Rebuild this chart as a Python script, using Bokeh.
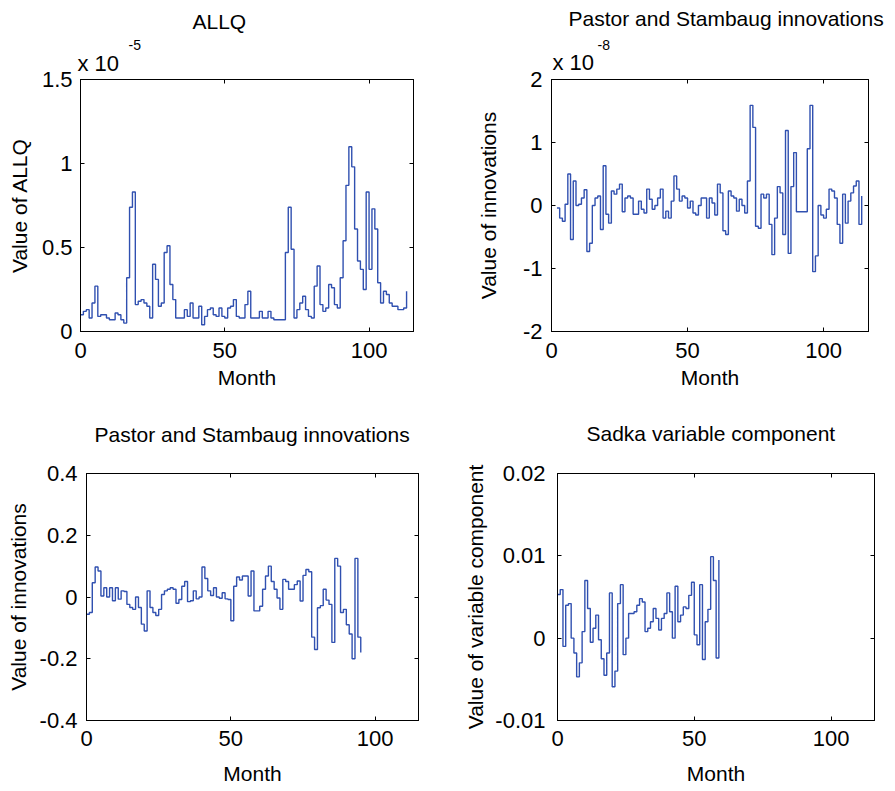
from bokeh.plotting import figure
from bokeh.layouts import column, row
from bokeh.models import Range1d, FixedTicker, Label, LinearAxis
from bokeh.embed import file_html
from bokeh.resources import INLINE

FONT = "Liberation Sans"
LINE = "#3050b0"

# ---------------- data ----------------
# ALLQ (in units of 1e-5), months 0..113
allq_start = 0
allq = [0.10, 0.12, 0.13, 0.08, 0.17, 0.27, 0.09, 0.10, 0.10, 0.08,
        0.07, 0.07, 0.11, 0.10, 0.07, 0.05, 0.32, 0.74, 0.83, 0.16,
        0.18, 0.19, 0.17, 0.15, 0.08, 0.40, 0.31, 0.15, 0.17, 0.47,
        0.51, 0.28, 0.19, 0.08, 0.08, 0.08, 0.13, 0.09, 0.17, 0.08,
        0.08, 0.15, 0.04, 0.09, 0.13, 0.14, 0.10, 0.09, 0.14, 0.09,
        0.08, 0.14, 0.15, 0.19, 0.09, 0.08, 0.08, 0.16, 0.24, 0.08,
        0.08, 0.08, 0.12, 0.08, 0.08, 0.12, 0.08, 0.07, 0.07, 0.07,
        0.07, 0.47, 0.74, 0.49, 0.08, 0.13, 0.17, 0.21, 0.13, 0.09,
        0.08, 0.27, 0.39, 0.16, 0.12, 0.14, 0.28, 0.26, 0.16, 0.14,
        0.32, 0.54, 0.87, 1.10, 0.98, 0.61, 0.42, 0.37, 0.25, 0.83,
        0.37, 0.73, 0.61, 0.29, 0.17, 0.24, 0.22, 0.17, 0.15, 0.15,
        0.13, 0.13, 0.14, 0.24]

# Pastor and Stambaugh innovations (in units of 1e-8), months 2..114
ps8_start = 2
ps8 = [-0.04, -0.20, -0.25, 0.02, 0.50, -0.54, 0.39, 0.00, 0.02, 0.12,
       0.25, -0.73, -0.60, 0.00, 0.12, 0.15, -0.38, 0.63, -0.14, -0.28,
       0.23, 0.18, 0.26, 0.34, -0.10, 0.12, 0.15, 0.12, -0.14, -0.14,
       0.07, -0.06, -0.12, 0.26, 0.10, -0.06, 0.00, 0.12, 0.26, -0.20,
       -0.09, -0.20, 0.07, 0.47, 0.26, 0.07, 0.15, 0.12, -0.04, 0.07,
       -0.12, -0.15, 0.00, 0.12, 0.12, -0.20, 0.12, 0.04, -0.15, 0.34,
       0.20, -0.40, -0.46, 0.23, 0.15, 0.12, -0.09, 0.10, 0.00, -0.12,
       0.39, 1.59, 1.24, -0.33, -0.36, 0.18, 0.12, 0.18, -0.30, -0.78,
       -0.20, 0.30, 0.20, -0.46, 1.19, -0.76, 0.30, 0.84, -0.10, -0.10,
       -0.10, -0.10, 0.90, 1.59, -1.05, -0.80, 0.00, -0.15, -0.20, -0.06,
       0.26, 0.23, 0.12, -0.30, -0.60, 0.18, -0.28, 0.07, 0.20, 0.31,
       0.39, -0.30, 0.15]

# Pastor and Stambaugh innovations (second series), months 0..95
ps_start = 0
ps = [-0.056, -0.050, 0.046, 0.097, 0.084, 0.003, 0.030, 0.000, 0.030, -0.012,
      0.030, -0.007, 0.020, 0.018, -0.024, -0.034, -0.040, 0.000, -0.034, -0.088,
      -0.110, 0.020, -0.034, -0.050, -0.060, -0.040, 0.008, 0.020, 0.025, 0.030,
      0.025, -0.020, -0.008, 0.035, 0.050, -0.015, -0.012, 0.020, -0.006, 0.000,
      0.097, 0.060, 0.020, 0.005, 0.030, 0.000, -0.004, 0.014, -0.006, -0.008,
      -0.077, 0.035, 0.065, 0.055, 0.068, 0.068, 0.003, 0.084, -0.045, -0.045,
      -0.030, 0.025, 0.068, 0.100, 0.050, 0.025, -0.003, -0.040, 0.057, 0.050,
      0.025, 0.025, 0.040, 0.052, -0.013, 0.070, 0.089, 0.082, -0.130, -0.170,
      -0.035, -0.028, 0.025, -0.010, -0.024, -0.147, 0.125, 0.100, -0.050, -0.040,
      -0.090, -0.120, -0.200, 0.125, -0.130, -0.180]

# Sadka variable component, months 0..59
sadka_start = 0
sadka = [0.0053, 0.0059, -0.0010, 0.0040, 0.0042, 0.0000, -0.0018, -0.0047, -0.0030, 0.0008,
         0.0070, 0.0036, -0.0005, 0.0012, 0.0028, -0.0002, -0.0025, -0.0045, -0.0018, 0.0055,
         -0.0059, -0.0040, 0.0042, 0.0065, -0.0020, 0.0000, 0.0030, 0.0030, 0.0032, 0.0040,
         0.0048, 0.0044, 0.0008, 0.0012, 0.0020, 0.0036, 0.0024, 0.0010, 0.0024, 0.0030,
         0.0055, 0.0032, 0.0000, 0.0063, 0.0020, 0.0028, 0.0038, 0.0036, 0.0052, 0.0068,
         0.0004, -0.0008, 0.0065, -0.0026, 0.0020, 0.0035, 0.0099, 0.0070, -0.0024, 0.0095]

x_ticks = [0, 50, 100]
x_tick_labels = ["0", "50", "100"]
allq_ticks = [0, 0.5, 1, 1.5]
allq_tick_labels = ["0", "0.5", "1", "1.5"]
ps8_ticks = [-2, -1, 0, 1, 2]
ps8_tick_labels = ["-2", "-1", "0", "1", "2"]
ps_ticks = [-0.4, -0.2, 0, 0.2, 0.4]
ps_tick_labels = ["-0.4", "-0.2", "0", "0.2", "0.4"]
sadka_ticks = [-0.01, 0, 0.01, 0.02]
sadka_tick_labels = ["-0.01", "0", "0.01", "0.02"]


def top_text(p, text, dx, dy, size):
    p.add_layout(Label(x=dx, y=dy, x_units="screen", y_units="screen", text=text,
                       text_font=FONT, text_font_size=size, text_color="black",
                       text_align="left", text_baseline="alphabetic"), "above")


def tick_only_axis(ticks):
    # inward ticks only; its labels are not drawn at all
    return LinearAxis(ticker=FixedTicker(ticks=ticks), major_tick_in=4, major_tick_out=0,
                      major_label_text_font_size="0px", major_label_text_color=None,
                      major_label_standoff=0,
                      minor_tick_line_color=None, axis_line_color="black",
                      major_tick_line_color="black")


def panel(vals, start, width, height, bl, br, bt, bb, xmax, yr, yticks, ylabels,
          ylabel, title, tdx, tdy, ystand, ylstand, xstand, xlstand, expo=None):
    p = figure(width=width, height=height, output_backend="svg", toolbar_location=None,
               x_range=Range1d(0, xmax), y_range=Range1d(*yr),
               min_border_left=bl, min_border_right=br, min_border_top=bt, min_border_bottom=bb,
               background_fill_color="white", border_fill_color="white")
    p.grid.visible = False
    p.outline_line_color = "black"
    p.outline_line_width = 1
    p.outline_line_alpha = 1

    xs = list(range(start, start + len(vals)))
    p.step(xs, vals, mode="after", line_color=LINE, line_width=1.4)

    p.xaxis.ticker = FixedTicker(ticks=x_ticks)
    p.xaxis.major_label_overrides = dict(zip(x_ticks, x_tick_labels))
    p.yaxis.ticker = FixedTicker(ticks=yticks)
    p.yaxis.major_label_overrides = dict(zip(yticks, ylabels))
    for ax in (p.xaxis, p.yaxis):
        ax.major_tick_in = 4
        ax.major_tick_out = 0
        ax.minor_tick_line_color = None
        ax.axis_line_color = "black"
        ax.major_tick_line_color = "black"
        ax.major_label_text_font = FONT
        ax.major_label_text_font_size = "22px"
        ax.major_label_text_color = "black"
        ax.axis_label_text_font = FONT
        ax.axis_label_text_font_size = "21px"
        ax.axis_label_text_font_style = "normal"
        ax.axis_label_text_color = "black"
    p.xaxis.axis_label = "Month"
    p.yaxis.axis_label = ylabel
    p.yaxis.major_label_standoff = ystand
    p.yaxis.axis_label_standoff = ylstand
    p.xaxis.major_label_standoff = xstand
    p.xaxis.axis_label_standoff = xlstand

    # inward ticks on the top and right edges of the box
    p.add_layout(tick_only_axis(x_ticks), "above")
    p.add_layout(tick_only_axis(yticks), "right")

    top_text(p, title, tdx, tdy, "21px")
    if expo is not None:
        ex, ey, sx, sy, stext = expo
        top_text(p, "x 10", ex, ey, "22px")
        top_text(p, stext, sx, sy, "14px")
    return p


p1 = panel(allq, allq_start, 448, 400, 80, 35, 79, 69, 115.4, (0, 1.5), allq_ticks, allq_tick_labels,
           "Value of ALLQ", "ALLQ", 112, 58.5, 8, 8, 11, 5, expo=(-3, -7, 48, -13, "-5"))
p2 = panel(ps8, ps8_start, 447, 400, 103, 27, 79, 68, 116.5, (-2, 2), ps8_ticks, ps8_tick_labels,
           "Value of innovations", "Pastor and Stambaug innovations", 17, 61, 9, 20, 11, 5,
           expo=(1, -5.6, 46, -13.5, "-8"))
p3 = panel(ps, ps_start, 448, 390, 86, 30, 73, 69, 115.0, (-0.4, 0.4), ps_ticks, ps_tick_labels,
           "Value of innovations", "Pastor and Stambaug innovations", 8, 38.8, 9, 7, 10, 13)
p4 = panel(sadka, sadka_start, 447, 390, 109, 21, 73, 70, 115.9, (-0.01, 0.02), sadka_ticks, sadka_tick_labels,
           "Value of variable component", "Sadka variable component", 29, 40.5, 12, 5, 10, 13)

layout = column(row(p1, p2), row(p3, p4))
open("out.html", "w").write(file_html(layout, INLINE))
